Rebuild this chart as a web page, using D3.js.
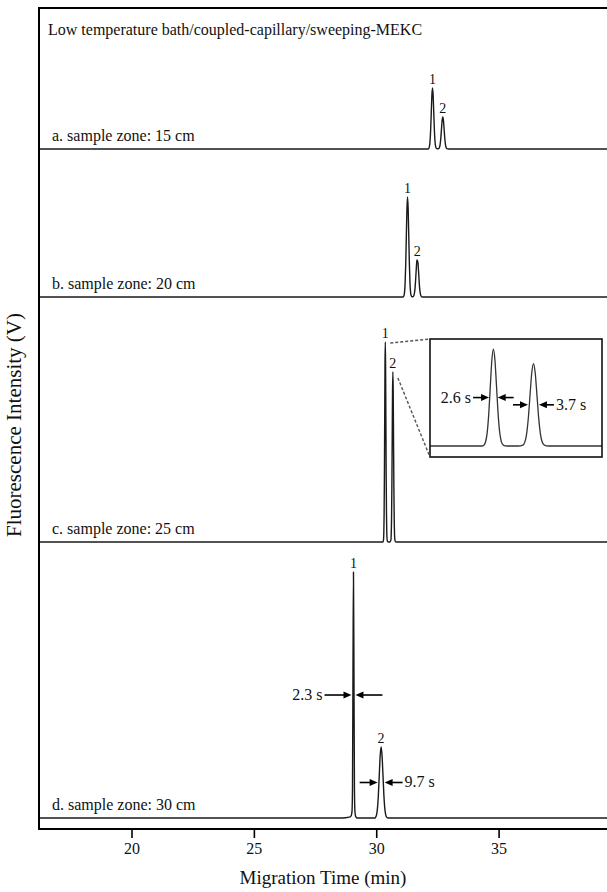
<!DOCTYPE html>
<html><head><meta charset="utf-8">
<script src="https://cdn.jsdelivr.net/npm/d3@7"></script>
<style>
body{margin:0;background:#fff;}
svg text{font-family:"Liberation Serif","Times New Roman",serif;fill:#111;}
</style>
</head><body>
<svg id="chart" width="607" height="892"></svg>
<script>
// ---------------- DATA ----------------
const xTicks = [20, 25, 30, 35];
const xTitle = "Migration Time (min)";
const yTitle = "Fluorescence Intensity (V)";
const chartTitle = "Low temperature bath/coupled-capillary/sweeping-MEKC";
const traceLabels = ["a. sample zone: 15 cm", "b. sample zone: 20 cm", "c. sample zone: 25 cm", "d. sample zone: 30 cm"];
// vertical offset of each trace (stacked display, V)
const traceOffsets = [8.283, 6.48, 3.496, 0.134];

// [time (min), signal above baseline (V)]
const traceA = [[16.2,0],[24,0],[32.12,0],[32.15,0.008],[32.175,0.033],[32.2,0.1],[32.225,0.241],[32.25,0.451],[32.275,0.656],[32.30,0.743],[32.325,0.656],[32.35,0.451],[32.375,0.241],[32.4,0.1],[32.425,0.033],[32.45,0.01],[32.5,0.002],[32.555,0.004],[32.5825,0.017],[32.61,0.053],[32.6375,0.127],[32.665,0.237],[32.6925,0.344],[32.72,0.39],[32.7475,0.344],[32.775,0.237],[32.8025,0.127],[32.83,0.053],[32.8575,0.017],[32.885,0.004],[32.95,0],[39.5,0]];
const traceB = [[16.2,0],[24,0],[31.1,0],[31.13,0.014],[31.155,0.053],[31.18,0.165],[31.205,0.395],[31.23,0.739],[31.255,1.075],[31.28,1.218],[31.305,1.075],[31.33,0.739],[31.355,0.395],[31.38,0.165],[31.405,0.053],[31.43,0.014],[31.46,0.003],[31.5,0.003],[31.53,0.012],[31.56,0.045],[31.59,0.12],[31.615,0.235],[31.64,0.36],[31.66,0.44],[31.675,0.451],[31.69,0.425],[31.70,0.435],[31.72,0.36],[31.745,0.235],[31.77,0.12],[31.80,0.045],[31.83,0.012],[31.87,0],[39.5,0]];
const traceC = [[16.2,0],[24,0],[30.28,0],[30.298,0.027],[30.31,0.107],[30.322,0.33],[30.334,0.79],[30.346,1.48],[30.358,2.15],[30.37,2.436],[30.382,2.17],[30.394,1.52],[30.406,0.84],[30.418,0.37],[30.43,0.13],[30.442,0.04],[30.46,0.005],[30.5,0],[30.56,0],[30.599,0.023],[30.6125,0.091],[30.626,0.28],[30.6395,0.672],[30.653,1.256],[30.6665,1.828],[30.68,2.071],[30.6935,1.84],[30.707,1.28],[30.7205,0.70],[30.734,0.30],[30.7475,0.10],[30.761,0.03],[30.78,0.005],[30.82,0],[39.5,0]];
const traceD = [[16.2,0],[24,0],[28.6,0],[28.9,0.01],[28.98,0.03],[29.01,0.08],[29.03,0.35],[29.05,1.8],[29.07,2.996],[29.09,1.8],[29.11,0.35],[29.13,0.08],[29.16,0.02],[29.22,0],[29.95,0],[29.975,0.01],[30.0125,0.038],[30.05,0.117],[30.0875,0.281],[30.125,0.525],[30.1625,0.763],[30.2,0.865],[30.2375,0.763],[30.275,0.525],[30.3125,0.281],[30.35,0.117],[30.3875,0.038],[30.425,0.01],[30.47,0],[39.5,0]];
const traces = [traceA, traceB, traceC, traceD];

// peak labels: trace index, retention time, label
const peakLabels = [
  [0, 32.30, "1"], [0, 32.72, "2"],
  [1, 31.28, "1"], [1, 31.68, "2"],
  [2, 30.37, "1"], [2, 30.68, "2"],
  [3, 29.07, "1"], [3, 30.20, "2"]
];
// peak width annotations: panel, trace index, peak time, width (s), label side
const widthNotes = [
  ["main", 3, 29.07, 2.3, "left"],
  ["main", 3, 30.20, 9.7, "right"],
  ["inset", 2, 30.37, 2.6, "left"],
  ["inset", 2, 30.68, 3.7, "right"]
];
const insetDomain = [29.88, 31.21];

// ---------------- LAYOUT ----------------
const svg = d3.select("#chart");
const L = 39, T = 8, B = 829, R = 607;
const x = d3.scaleLinear().domain([16.22, 39.43]).range([L, R]);
const y = d3.scaleLinear().domain([0, 10]).range([B, T]);
const ink = "#1a1a1a";

function peakHeight(ti, t) {
  const pts = traces[ti].filter(p => Math.abs(p[0] - t) < 0.03);
  return d3.max(pts, p => p[1]);
}

const line = d3.line().curve(d3.curveMonotoneX);
traces.forEach((tr, i) => {
  svg.append("path")
    .attr("d", line(tr.map(p => [x(p[0]), y(p[1] + traceOffsets[i])])))
    .attr("fill", "none").attr("stroke", ink).attr("stroke-width", 1.4)
    .attr("stroke-linejoin", "round");
});

// frame
svg.append("path").attr("d", `M${R + 2},${T}H${L}V${B}H${R + 2}`)
  .attr("fill", "none").attr("stroke", "#000").attr("stroke-width", 2);

// x axis
const xAxis = d3.axisBottom(x).tickValues(xTicks).tickSize(9).tickPadding(5);
const gx = svg.append("g").attr("transform", `translate(0,${B})`).call(xAxis);
gx.select(".domain").remove();
gx.selectAll(".tick line").attr("stroke", "#000").attr("stroke-width", 1.6);
gx.selectAll(".tick text").attr("font-size", 16).attr("fill", "#111");

svg.append("text").attr("x", 323).attr("y", 884).attr("text-anchor", "middle")
  .attr("font-size", 19).text(xTitle);
svg.append("text").attr("transform", "translate(21,425) rotate(-90)")
  .attr("text-anchor", "middle").attr("font-size", 21).text(yTitle);

svg.append("text").attr("x", 48).attr("y", 35).attr("font-size", 16).text(chartTitle);

traceLabels.forEach((lab, i) => {
  svg.append("text").attr("x", 52).attr("y", y(traceOffsets[i]) - 8)
    .attr("font-size", 16).text(lab);
});

peakLabels.forEach(([ti, t, lab]) => {
  const h = peakHeight(ti, t);
  svg.append("text").attr("x", x(t)).attr("y", y(h + traceOffsets[ti]) - 4)
    .attr("text-anchor", "middle").attr("font-size", 14).text(lab);
});

// inset
const ix = d3.scaleLinear().domain(insetDomain).range([430, 602]);
const iy = d3.scaleLinear().domain([-0.276, 2.69]).range([457, 339]);
svg.append("clipPath").attr("id", "ic").append("rect")
  .attr("x", 430).attr("y", 339).attr("width", 172).attr("height", 118);
svg.append("path")
  .attr("d", line(traceC.map(p => [ix(p[0]), iy(p[1])])))
  .attr("clip-path", "url(#ic)")
  .attr("fill", "none").attr("stroke", "#333").attr("stroke-width", 1.3);
svg.append("rect").attr("x", 430).attr("y", 339).attr("width", 172).attr("height", 118)
  .attr("fill", "none").attr("stroke", "#111").attr("stroke-width", 1.6);

const c1 = peakHeight(2, 30.37), c2 = peakHeight(2, 30.68);
svg.append("line").attr("x1", x(30.37) + 5).attr("y1", y(c1 + traceOffsets[2]) + 1)
  .attr("x2", 430).attr("y2", 339)
  .attr("stroke", "#555").attr("stroke-width", 1.4).attr("stroke-dasharray", "3,2");
svg.append("line").attr("x1", x(30.68) + 5).attr("y1", y(c2 + traceOffsets[2]) + 6)
  .attr("x2", 430).attr("y2", 457)
  .attr("stroke", "#555").attr("stroke-width", 1.4).attr("stroke-dasharray", "3,2");

function arrow(xTail, xTip, yy) {
  const dir = Math.sign(xTip - xTail);
  svg.append("line").attr("x1", xTail).attr("y1", yy).attr("x2", xTip - dir * 5).attr("y2", yy)
    .attr("stroke", "#000").attr("stroke-width", 1.6);
  svg.append("path")
    .attr("d", `M${xTip},${yy}L${xTip - dir * 8},${yy - 3.5}L${xTip - dir * 8},${yy + 3.5}Z`)
    .attr("fill", "#000");
}
const arrowLen = {"2.3": 27, "9.7": 18, "2.6": 16, "3.7": 15};
widthNotes.forEach(([panel, ti, t, sec, side]) => {
  const half = sec / 60 / 2;
  const h = peakHeight(ti, t);
  const sx = panel === "main" ? x : ix;
  const yy = panel === "main" ? y(traceOffsets[ti] + h / 2) : iy(h / 2);
  const gap = 1.5;
  const tipL = sx(t - half) - gap, tipR = sx(t + half) + gap;
  const len = arrowLen[sec.toFixed(1)];
  arrow(tipL - len, tipL, yy);
  arrow(tipR + len, tipR, yy);
  const lab = sec.toFixed(1) + " s";
  if (side === "left") {
    svg.append("text").attr("x", tipL - len - 2).attr("y", yy + 5)
      .attr("text-anchor", "end").attr("font-size", 16).text(lab);
  } else {
    svg.append("text").attr("x", tipR + len + 2).attr("y", yy + 5)
      .attr("text-anchor", "start").attr("font-size", 16).text(lab);
  }
});
</script>
</body></html>
